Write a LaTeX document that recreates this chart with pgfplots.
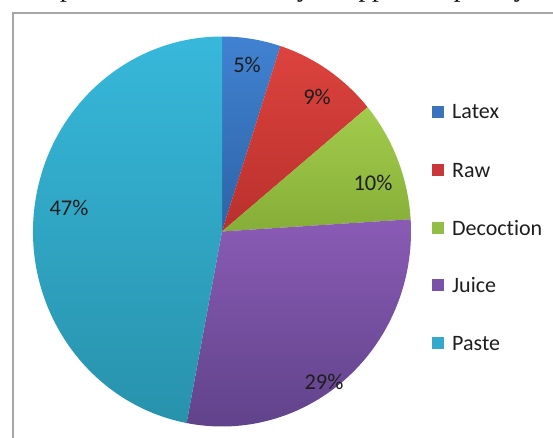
\documentclass[border=0pt]{standalone}
\usepackage{pgfplots}
\usepackage{pgfplotstable}
\pgfplotsset{compat=1.18}
\usepackage{fontspec}
\setmainfont{Carlito}[Ligatures=NoCommon]
\newfontfamily\serifx{Liberation Serif}
\definecolor{cLatexT}{HTML}{4082D2}
\definecolor{cLatexB}{HTML}{2E63A6}
\definecolor{cRawT}{HTML}{DC433E}
\definecolor{cRawB}{HTML}{BA302C}
\definecolor{cDecT}{HTML}{A2CC4C}
\definecolor{cDecB}{HTML}{86AE38}
\definecolor{cJuiceT}{HTML}{8A5BB5}
\definecolor{cJuiceB}{HTML}{5F4289}
\definecolor{cPasteT}{HTML}{37B8DA}
\definecolor{cPasteB}{HTML}{2892AC}
\definecolor{cLatexL}{HTML}{3A72BE}
\definecolor{cRawL}{HTML}{C8383A}
\definecolor{cDecL}{HTML}{93BE45}
\definecolor{cJuiceL}{HTML}{7A52A8}
\definecolor{cPasteL}{HTML}{34A9CB}
\definecolor{frameGray}{HTML}{A6A6A6}
\definecolor{labelc}{HTML}{1E1E1E}

\pgfplotstableread{
label value top bottom
Latex 5 cLatexT cLatexB
Raw 9 cRawT cRawB
Decoction 10 cDecT cDecB
Juice 29 cJuiceT cJuiceB
Paste 47 cPasteT cPasteB
}\piedata

\begin{document}
\begin{tikzpicture}
\useasboundingbox (0,0) rectangle (553pt,437pt);
\clip (0,0) rectangle (553pt,437pt);
\begin{axis}[at={(0pt,0pt)}, anchor=south west,
  width=553pt, height=437pt, scale only axis,
  xmin=0, xmax=553, ymin=0, ymax=437,
  hide axis, clip=true]
% partial caption line cut at the top
\node[anchor=base west, font=\serifx\fontsize{27}{27}\selectfont, inner sep=0pt] at (axis cs:60,440.5) {paste to be taken orally or applied topically.};
\node[anchor=base east, font=\serifx\fontsize{27}{27}\selectfont, inner sep=0pt] at (axis cs:54,440.5) {or};
% frame
\draw[line width=2pt, color=frameGray] (axis cs:12.5,424) rectangle (axis cs:580,-30);
% pie
\def\cum{90}
\pgfplotsforeachungrouped \i in {0,...,4}{%
  \pgfplotstablegetelem{\i}{value}\of\piedata\let\v\pgfplotsretval
  \pgfplotstablegetelem{\i}{top}\of\piedata\let\ct\pgfplotsretval
  \pgfplotstablegetelem{\i}{bottom}\of\piedata\let\cb\pgfplotsretval
  \pgfmathsetmacro\ea{\cum-3.6*\v}
  \edef\temp{\noexpand\shade[top color=\ct, bottom color=\cb] (axis cs:222,205.5) -- ++(\cum:189pt and 195pt) arc[start angle=\cum, end angle=\ea, x radius=189pt, y radius=195pt] -- cycle;}
  \temp
  \global\let\cum\ea
}
% data labels
\begin{scope}[every node/.style={anchor=base, inner sep=0pt, text=labelc, font=\fontsize{22.5}{22.5}\selectfont}]
\node at (axis cs:247,364) {5\%};
\node at (axis cs:317,332) {9\%};
\node at (axis cs:373,247) {10\%};
\node at (axis cs:324,48) {29\%};
\node at (axis cs:69,222) {47\%};
\end{scope}
% legend
\begin{scope}[every node/.style={anchor=base west, inner sep=0pt, text=labelc, font=\fontsize{22}{22}\selectfont}]
\fill[cLatexL] (axis cs:432,319) rectangle (axis cs:444,331);
\node at (axis cs:452,318) {Latex};
\fill[cRawL] (axis cs:432,261) rectangle (axis cs:444,273);
\node at (axis cs:452,260) {Raw};
\fill[cDecL] (axis cs:432,203) rectangle (axis cs:444,215);
\node at (axis cs:452,202) {Decoction};
\fill[cJuiceL] (axis cs:432,146) rectangle (axis cs:444,158);
\node at (axis cs:452,145) {Juice};
\fill[cPasteL] (axis cs:432,88) rectangle (axis cs:444,100);
\node at (axis cs:452,87) {Paste};
\end{scope}
\end{axis}
\end{tikzpicture}
\end{document}
